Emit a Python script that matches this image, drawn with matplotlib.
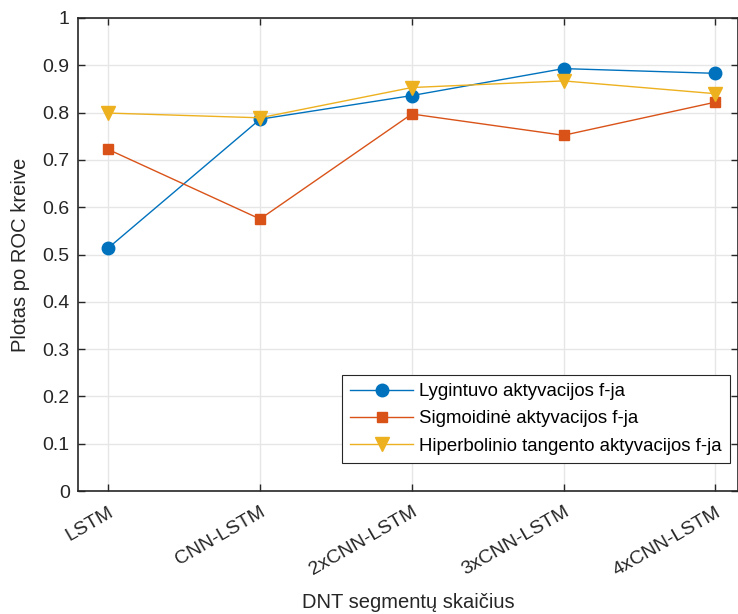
import matplotlib
matplotlib.use("Agg")
import matplotlib.pyplot as plt

categories = ["LSTM", "CNN-LSTM", "2xCNN-LSTM", "3xCNN-LSTM", "4xCNN-LSTM"]
relu = [0.514, 0.786, 0.836, 0.893, 0.883]
sigmoid = [0.722, 0.575, 0.797, 0.752, 0.822]
tanh = [0.799, 0.789, 0.853, 0.867, 0.840]
series_names = ["Lygintuvo aktyvacijos f-ja", "Sigmoidinė aktyvacijos f-ja",
                "Hiperbolinio tangento aktyvacijos f-ja"]
yticks = [0, 0.1, 0.2, 0.3, 0.4, 0.5, 0.6, 0.7, 0.8, 0.9, 1]
ytick_labels = ["0", "0.1", "0.2", "0.3", "0.4", "0.5", "0.6", "0.7", "0.8", "0.9", "1"]

plt.rcParams['font.family'] = ['Liberation Sans', 'DejaVu Sans']

fig = plt.figure(figsize=(7.38, 6.14), dpi=100)
ax = fig.add_axes([0.1057, 0.2003, 0.8943, 0.7704])

x = list(range(len(categories)))
ax.plot(x, relu, color="#0072BD", lw=1, marker="o", ms=9, label=series_names[0])
ax.plot(x, sigmoid, color="#D95319", lw=1, marker="s", ms=7.5, label=series_names[1])
ax.plot(x, tanh, color="#EDB120", lw=1, marker="v", ms=10, label=series_names[2])

ax.set_xlim(-0.2, 4.15)
ax.set_ylim(0, 1)
ax.set_xticks(x)
ax.set_xticklabels(categories, rotation=30, ha="right", rotation_mode="anchor", fontsize=14, color="#262626")
ax.set_yticks(yticks)
ax.set_yticklabels(ytick_labels, fontsize=14, color="#262626")
ax.tick_params(direction="in", top=True, right=True, length=5, width=1, colors="#262626")
ax.tick_params(axis="x", pad=9)
ax.tick_params(axis="y", pad=6)
ax.grid(True, color="#e6e6e6", lw=1)
ax.set_axisbelow(True)
for s in ax.spines.values():
    s.set_color("#262626")
    s.set_linewidth(1.2)

ax.set_xlabel("DNT segmentų skaičius", fontsize=14.5, color="#262626", labelpad=10)
ax.set_ylabel("Plotas po ROC kreive", fontsize=14.5, color="#262626", labelpad=9)

leg = ax.legend(loc="lower right", bbox_to_anchor=(0.988, 0.059), fontsize=13.4,
                frameon=True, fancybox=False, edgecolor="#262626", framealpha=1,
                handlelength=3.4, borderpad=0.45, labelspacing=0.55, handletextpad=0.3,
                borderaxespad=0)
leg.get_frame().set_linewidth(0.8)

fig.savefig("out.png", dpi=100)
